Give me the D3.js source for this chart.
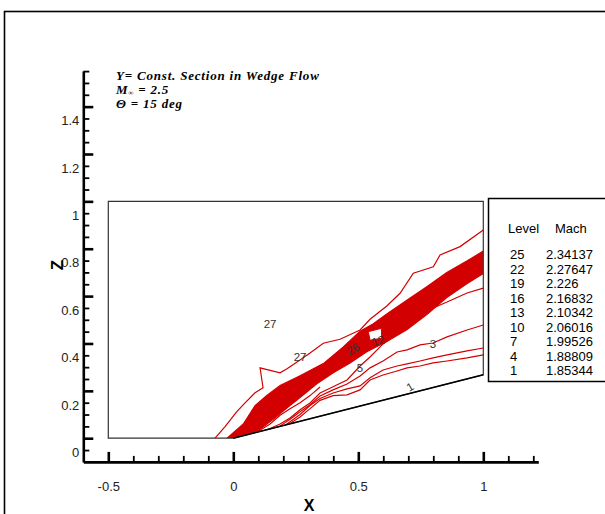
<!DOCTYPE html>
<html>
<head>
<meta charset="utf-8">
<script src="https://cdn.jsdelivr.net/npm/d3@7"></script>
<style>
  body { margin: 0; background: #fff; }
  svg { display: block; font-family: "Liberation Sans", Arial, sans-serif; }
  .axis .domain { stroke: #000; stroke-width: 2.6; }
  .axis line { stroke: #000; }
  .axis text { font-size: 13px; fill: #222; }
</style>
</head>
<body>
<svg width="605" height="514"></svg>
<script>
// Computational domain (x, z): flat plate then 15 deg wedge
var boundary = [[-0.5, 0], [0, 0], [1, 0.268], [1, 1], [-0.5, 1]];
var wedge = [[0, 0], [1, 0.268]];

// Contour lines (x, z)
var shockOuter = [[-0.073, 0], [-0.033, 0.049], [0.014, 0.112], [0.047, 0.149], [0.087, 0.192],
  [0.119, 0.213], [0.107, 0.297], [0.187, 0.276], [0.215, 0.293], [0.255, 0.322], [0.307, 0.360],
  [0.360, 0.401], [0.427, 0.418], [0.507, 0.457], [0.547, 0.502], [0.614, 0.558], [0.667, 0.612],
  [0.720, 0.697], [0.800, 0.724], [0.827, 0.774], [0.907, 0.809], [1.0, 0.879]];

var bandTop = [[-0.025, 0], [0.040, 0.060], [0.087, 0.138], [0.134, 0.180], [0.187, 0.222],
  [0.267, 0.264], [0.360, 0.315], [0.440, 0.385], [0.507, 0.452], [0.560, 0.483], [0.614, 0.525],
  [0.694, 0.582], [0.774, 0.640], [0.854, 0.700], [0.934, 0.748], [1.0, 0.790]];

var bandBottom = [[0, 0], [0.040, 0.011], [0.100, 0.033], [0.160, 0.080], [0.214, 0.127],
  [0.267, 0.172], [0.334, 0.230], [0.400, 0.276], [0.467, 0.318], [0.534, 0.365], [0.614, 0.408],
  [0.694, 0.458], [0.774, 0.522], [0.854, 0.594], [0.934, 0.652], [1.0, 0.695]];

var bandHole = [[0.540, 0.450], [0.593, 0.464], [0.593, 0.422], [0.547, 0.414]];

var lineE = [[0.10, 0.029], [0.147, 0.060], [0.187, 0.097], [0.227, 0.124], [0.267, 0.150],
  [0.307, 0.180], [0.347, 0.216]];

var line5 = [[1.0, 0.634], [0.935, 0.613], [0.855, 0.575], [0.799, 0.550], [0.747, 0.516],
  [0.695, 0.474], [0.655, 0.440], [0.599, 0.398], [0.547, 0.343], [0.507, 0.305], [0.455, 0.246],
  [0.399, 0.217], [0.347, 0.191], [0.307, 0.149], [0.267, 0.120], [0.227, 0.085], [0.187, 0.060],
  [0.14, 0.038]];

var line3 = [[1.0, 0.478], [0.935, 0.457], [0.855, 0.428], [0.799, 0.402], [0.747, 0.394],
  [0.695, 0.373], [0.655, 0.364], [0.599, 0.326], [0.547, 0.297], [0.507, 0.263], [0.455, 0.229],
  [0.399, 0.204], [0.347, 0.178], [0.307, 0.141], [0.267, 0.112], [0.227, 0.080], [0.185, 0.050]];

var lineC = [[1.0, 0.381], [0.935, 0.369], [0.855, 0.352], [0.799, 0.339], [0.747, 0.326],
  [0.695, 0.314], [0.655, 0.305], [0.599, 0.288], [0.547, 0.255], [0.507, 0.221], [0.455, 0.208],
  [0.399, 0.191], [0.347, 0.168], [0.307, 0.138], [0.267, 0.100], [0.227, 0.070], [0.21, 0.057]];

var lineD = [[1.0, 0.352], [0.935, 0.339], [0.855, 0.326], [0.799, 0.318], [0.747, 0.305],
  [0.695, 0.297], [0.655, 0.284], [0.599, 0.267], [0.547, 0.246], [0.507, 0.204], [0.455, 0.183],
  [0.399, 0.180], [0.347, 0.160], [0.307, 0.125], [0.267, 0.090], [0.225, 0.061]];

var contourLabels = [
  { text: "27", x: 0.147, z: 0.482, angle: 0 },
  { text: "27", x: 0.267, z: 0.343, angle: 0 },
  { text: "26", x: 0.479, z: 0.377, angle: -30 },
  { text: "12", x: 0.579, z: 0.411, angle: -15 },
  { text: "5", x: 0.507, z: 0.297, angle: 0 },
  { text: "3", x: 0.799, z: 0.398, angle: 0 },
  { text: "1", x: 0.707, z: 0.217, angle: -30 }
];

// Legend table
var levels = [25, 22, 19, 16, 13, 10, 7, 4, 1];
var machValues = ["2.34137", "2.27647", "2.226", "2.16832", "2.10342", "2.06016", "1.99526", "1.88809", "1.85344"];

// Ticks
var xMajor = [-0.5, 0, 0.5, 1];
var xMinor = [-0.4, -0.3, -0.2, -0.1, 0.1, 0.2, 0.3, 0.4, 0.6, 0.7, 0.8, 0.9, 1.1, 1.2];
var yMajor = [0, 0.2, 0.4, 0.6, 0.8, 1, 1.2, 1.4];
var yMinor = [-0.05, 0.05, 0.1, 0.15, 0.25, 0.3, 0.35, 0.45, 0.5, 0.55, 0.65, 0.7, 0.75,
  0.85, 0.9, 0.95, 1.05, 1.1, 1.15, 1.25, 1.3, 1.35, 1.45, 1.5, 1.55];

var svg = d3.select("svg");

var x = d3.scaleLinear().domain([-0.6, 1.22]).range([83.3, 538.3]);
var y = d3.scaleLinear().domain([-0.1, 1.55]).range([461.9, 71.1]);

var line = d3.line()
    .x(function(d) { return x(d[0]); })
    .y(function(d) { return y(d[1]); });

// outer frame
svg.append("rect")
    .attr("x", 4.5).attr("y", 11.5)
    .attr("width", 700).attr("height", 600)
    .attr("fill", "none")
    .attr("stroke", "#000")
    .attr("stroke-width", 1.6);

svg.append("defs").append("clipPath")
    .attr("id", "dom")
    .append("path")
    .attr("d", line(boundary) + "Z");

var plot = svg.append("g").attr("clip-path", "url(#dom)");

// dense shock band (many close contour levels)
plot.append("path")
    .attr("d", line(bandTop.concat(bandBottom.slice().reverse())) + "Z")
    .attr("fill", "#d20000")
    .attr("stroke", "none");

plot.append("path")
    .attr("d", line(bandHole) + "Z")
    .attr("fill", "#fff")
    .attr("stroke", "#d40000")
    .attr("stroke-width", 1);

plot.selectAll(".contour")
    .data([shockOuter, bandTop, bandBottom, lineE, line5, line3, lineC, lineD])
    .enter().append("path")
    .attr("class", "contour")
    .attr("d", line)
    .attr("fill", "none")
    .attr("stroke", "#d40000")
    .attr("stroke-width", 1.2);

// domain outline
svg.append("path")
    .attr("d", line(boundary) + "Z")
    .attr("fill", "none")
    .attr("stroke", "#333")
    .attr("stroke-width", 1.2);

svg.append("path")
    .attr("d", line(wedge))
    .attr("fill", "none")
    .attr("stroke", "#000")
    .attr("stroke-width", 1.6);

svg.selectAll(".clabel")
    .data(contourLabels)
    .enter().append("text")
    .attr("class", "clabel")
    .attr("transform", function(d) {
        return "translate(" + x(d.x) + "," + y(d.z) + ") rotate(" + d.angle + ")";
    })
    .attr("text-anchor", "middle")
    .attr("dy", "0.35em")
    .style("font-size", "11.5px")
    .style("fill", "#333")
    .text(function(d) { return d.text; });

// x axis, ticks pointing up
var gx = svg.append("g")
    .attr("class", "axis")
    .attr("transform", "translate(0," + y(-0.1) + ")");
gx.call(d3.axisBottom(x).tickValues(xMajor).tickSize(-10).tickSizeOuter(0)
    .tickPadding(20).tickFormat(function(d) { return String(d); }));
gx.selectAll(".tick line").attr("stroke-width", 2.6);
gx.append("g")
    .call(d3.axisBottom(x).tickValues(xMinor).tickSize(-6).tickSizeOuter(0).tickFormat(""))
    .call(function(g) { g.select(".domain").remove(); })
    .selectAll(".tick line").attr("stroke-width", 1.8);

// y axis, ticks pointing right
var gy = svg.append("g")
    .attr("class", "axis")
    .attr("transform", "translate(" + x(-0.6) + ",0)");
gy.call(d3.axisLeft(y).tickValues(yMajor).tickSize(-10).tickSizeOuter(0)
    .tickPadding(4).tickFormat(function(d) { return String(d); }));
gy.selectAll(".tick line").attr("stroke-width", 2.6);
gy.selectAll(".tick text").attr("transform", "translate(0,14)");
gy.append("g")
    .call(d3.axisLeft(y).tickValues(yMinor).tickSize(-6).tickSizeOuter(0).tickFormat(""))
    .call(function(g) { g.select(".domain").remove(); })
    .selectAll(".tick line").attr("stroke-width", 1.8);

svg.append("text")
    .attr("x", 309).attr("y", 511)
    .attr("text-anchor", "middle")
    .style("font-weight", "bold")
    .style("font-size", "16px")
    .text("X");

svg.append("text")
    .attr("transform", "translate(63,265) rotate(-90)")
    .attr("text-anchor", "middle")
    .style("font-weight", "bold")
    .style("font-size", "17px")
    .text("Z");

// title block
var title = svg.append("g")
    .style("font-family", "'Liberation Serif', 'Times New Roman', serif")
    .style("font-weight", "bold")
    .style("font-style", "italic")
    .style("font-size", "13px")
    .style("letter-spacing", "0.8px");
title.append("text").attr("x", 116).attr("y", 80).text("Y= Const. Section in Wedge Flow");
var m = title.append("text").attr("x", 116).attr("y", 94);
m.append("tspan").text("M");
m.append("tspan").attr("dy", 1).style("font-size", "7px").text("\u221e");
m.append("tspan").attr("dy", -1).text(" = 2.5");
title.append("text").attr("x", 116).attr("y", 108).text("\u0398 = 15 deg");

// legend
var legend = svg.append("g");
legend.append("rect")
    .attr("x", 488.5).attr("y", 198.5)
    .attr("width", 140).attr("height", 183)
    .attr("fill", "#fff")
    .attr("stroke", "#000")
    .attr("stroke-width", 1.5);
legend.append("text").attr("x", 508).attr("y", 233).style("font-size", "13px").text("Level");
legend.append("text").attr("x", 555).attr("y", 233).style("font-size", "13px").text("Mach");
var rows = legend.selectAll(".row")
    .data(levels)
    .enter().append("g")
    .attr("class", "row")
    .attr("transform", function(d, i) { return "translate(0," + (259 + i * 14.5) + ")"; });
rows.append("text").attr("x", 510).style("font-size", "13px")
    .text(function(d) { return d; });
rows.append("text").attr("x", 546).style("font-size", "13px")
    .text(function(d, i) { return machValues[i]; });
</script>
</body>
</html>
